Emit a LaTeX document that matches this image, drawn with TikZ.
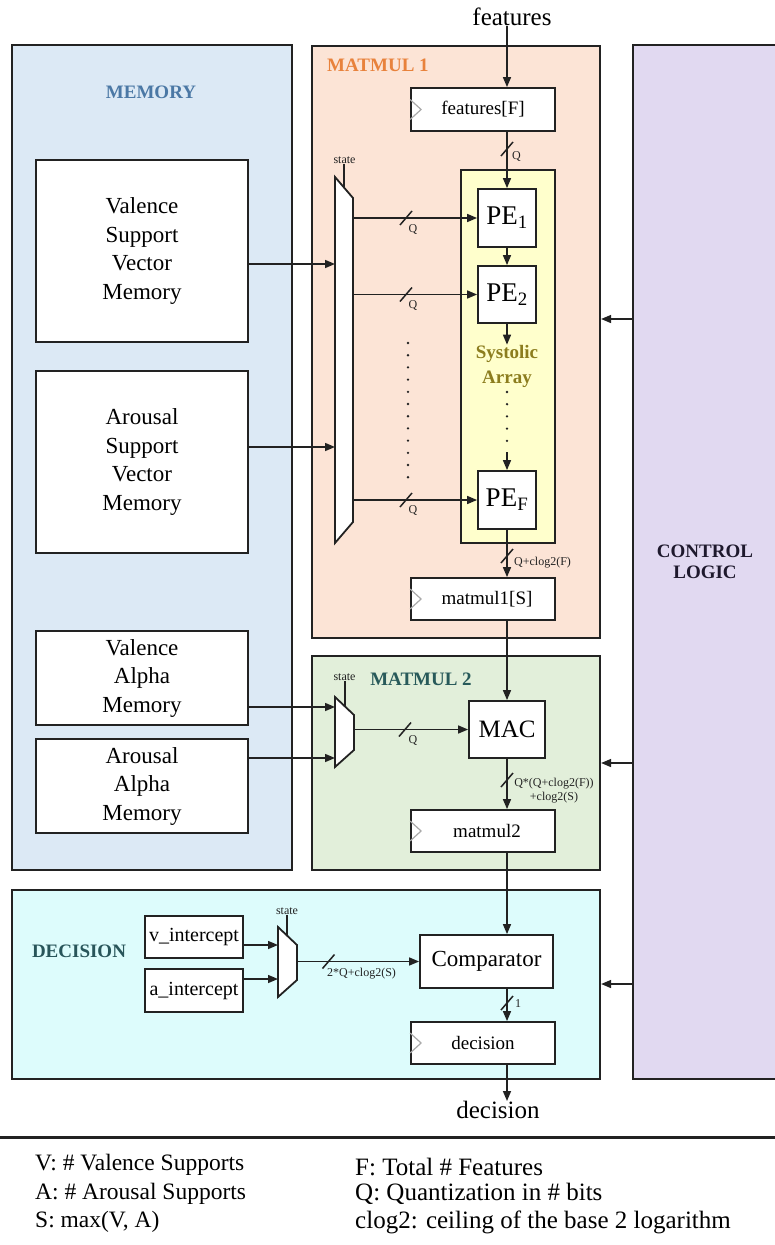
\documentclass[tikz,border=0pt]{standalone}
\usepackage{fontspec}
\setmainfont{Liberation Serif}
\usetikzlibrary{arrows.meta}
\definecolor{linec}{HTML}{222222}
\definecolor{memfill}{HTML}{DCE9F5}
\definecolor{mmfill}{HTML}{FCE4D6}
\definecolor{sysfill}{HTML}{FFFFCC}
\definecolor{mmtwofill}{HTML}{E2EFDA}
\definecolor{decfill}{HTML}{DDFCFC}
\definecolor{ctrlfill}{HTML}{E1D9F1}
\definecolor{memlbl}{HTML}{4B78A5}
\definecolor{mmlbl}{HTML}{E8823C}
\definecolor{syslbl}{HTML}{8C7D1E}
\definecolor{mmtwolbl}{HTML}{285A5A}
\definecolor{declbl}{HTML}{28555A}
\definecolor{ctrllbl}{HTML}{1E192D}
\definecolor{regtri}{HTML}{AAAAAA}
\newcommand{\regmark}[1]{\draw[draw=regtri,line width=1.2pt] ([yshift=10pt]#1.west) -- ([xshift=11pt]#1.west) -- ([yshift=-10pt]#1.west);}
\begin{document}
\begin{tikzpicture}[x=1pt,y=-1pt,
 grp/.style={draw=linec,line width=2.2pt,inner sep=0pt},
 ibox/.style={draw=linec,line width=1.8pt,fill=white,inner sep=0pt,align=center},
 memtxt/.style={font=\fontsize{23}{28.5}\selectfont},
 regtxt/.style={font=\fontsize{19}{22}\selectfont},
 small/.style={font=\fontsize{12}{14}\selectfont,inner sep=0pt,text=linec},
 glbl/.style={font=\fontsize{19}{21}\selectfont\bfseries,inner sep=0pt,align=center},
 ln/.style={draw=linec,line width=1.5pt},
 arr/.style={ln,-{Triangle[length=10pt,width=8pt]}},
 muxs/.style={draw=linec,line width=1.8pt,fill=white,line join=miter},
 dots/.style={draw=linec,line width=2.6pt,line cap=round,dash pattern=on 0pt off 12.2pt},
 bus/.pic={\draw[draw=linec,line width=1.5pt] (-6,7) -- (6,-7);},
 legl/.style={font=\fontsize{23.5}{28}\selectfont,inner sep=0pt,anchor=west},
 legr/.style={font=\fontsize{25}{28}\selectfont,inner sep=0pt,anchor=west}
 ]
\useasboundingbox (0,0) rectangle (775,1245);
\fill[white] (0,0) rectangle (775,1245);

% group boxes
\node[grp,fill=memfill,minimum width=280,minimum height=825] (mem) at (152,457.5) {};
\node[grp,fill=mmfill,minimum width=288,minimum height=592] (mmone) at (456,342) {};
\node[grp,fill=ctrlfill,minimum width=144,minimum height=1034,glbl,text=ctrllbl] (ctrl) at (705,562) {CONTROL\\LOGIC};
\node[grp,fill=mmtwofill,minimum width=288,minimum height=214] (mmtwo) at (456,763) {};
\node[grp,fill=decfill,minimum width=588,minimum height=189] (dec) at (306,984.5) {};

% group labels
\node[glbl,text=memlbl] (memlabel) at (151,92) {MEMORY};
\node[glbl,text=mmlbl,anchor=west] (mmonelabel) at (327,65) {MATMUL 1};
\node[glbl,text=mmtwolbl] (mmtwolabel) at (421,679) {MATMUL 2};
\node[glbl,text=declbl] (declabel) at (79,951) {DECISION};

% memory blocks
\node[ibox,memtxt,minimum width=212,minimum height=182] (vsv) at (142,251) {Valence\\Support\\Vector\\Memory};
\node[ibox,memtxt,minimum width=212,minimum height=182] (asv) at (142,462) {Arousal\\Support\\Vector\\Memory};
\node[ibox,memtxt,minimum width=212,minimum height=94] (val) at (142,678) {Valence\\Alpha\\Memory};
\node[ibox,memtxt,minimum width=212,minimum height=94] (aal) at (142,786) {Arousal\\Alpha\\Memory};

% systolic array
\node[draw=linec,line width=1.8pt,fill=sysfill,minimum width=94,minimum height=373,inner sep=0pt] (sys) at (508,356.5) {};
\node[glbl,text=syslbl,font=\fontsize{19}{25}\selectfont\bfseries] (syslabel) at (507,366) {Systolic\\Array};
\node[ibox,minimum width=58,minimum height=58,font=\fontsize{27}{30}\selectfont] (pe1) at (507,218) {PE\textsubscript{1}};
\node[ibox,minimum width=58,minimum height=57,font=\fontsize{27}{30}\selectfont] (pe2) at (507,294.5) {PE\textsubscript{2}};
\node[ibox,minimum width=58,minimum height=58,font=\fontsize{27}{30}\selectfont] (pef) at (507,500) {PE\textsubscript{F}};

% registers
\node[ibox,regtxt,minimum width=144,minimum height=43] (featreg) at (483,109.5) {features[F]};
\node[ibox,regtxt,minimum width=144,minimum height=42] (mmonereg) at (483,599) {\hspace*{8pt}matmul1[S]};
\node[ibox,regtxt,minimum width=144,minimum height=42] (mmtworeg) at (483,831) {\hspace*{8pt}matmul2};
\node[ibox,regtxt,minimum width=144,minimum height=42] (decreg) at (483,1043) {decision};
\regmark{featreg}
\regmark{mmonereg}
\regmark{mmtworeg}
\regmark{decreg}

% other blocks
\node[ibox,minimum width=76,minimum height=57,font=\fontsize{25}{28}\selectfont] (mac) at (507,729.5) {MAC};
\node[ibox,minimum width=133,minimum height=53,font=\fontsize{23}{26}\selectfont] (comp) at (486.5,961.5) {Comparator};
\node[ibox,minimum width=98,minimum height=42,font=\fontsize{20}{23}\selectfont] (vint) at (194,937) {v\_intercept};
\node[ibox,minimum width=98,minimum height=43,font=\fontsize{20}{23}\selectfont] (aint) at (194,990.5) {a\_intercept};

% muxes
\draw[muxs] (335,177) -- (353,198) -- (353,522) -- (335,543) -- cycle;
\draw[muxs] (335,697) -- (354,715) -- (354,750) -- (335,767) -- cycle;
\draw[muxs] (278,927) -- (297,945) -- (297,980) -- (278,997) -- cycle;
\coordinate (muxoner) at (353,0);
\coordinate (muxtwor) at (354,0);
\coordinate (muxthreer) at (297,0);
\coordinate (muxones) at (344,187.5);
\coordinate (muxtwos) at (345,706.5);
\coordinate (muxthrees) at (287,935.5);
\coordinate (mxa) at (335,264);
\coordinate (mxb) at (335,447);
\coordinate (mxc) at (335,707);
\coordinate (mxd) at (335,758);
\coordinate (mxe) at (278,945);
\coordinate (mxf) at (278,979);
\coordinate (colx) at (507,0);

% state labels
\node[small] (stone) at (344.5,160) {state};
\node[small] (sttwo) at (344.5,677) {state};
\node[small] (stthree) at (287,911) {state};
\draw[ln] (muxones |- stone.south) -- (muxones);
\draw[ln] (muxtwos |- sttwo.south) -- (muxtwos);
\draw[ln] (muxthrees |- stthree.south) -- (muxthrees);

% outer texts
\node[font=\fontsize{25}{28}\selectfont,inner sep=0pt] (featin) at (512,17) {features};
\node[font=\fontsize{25}{28}\selectfont,inner sep=0pt] (decout) at (498,1110) {decision};

% MATMUL 1 connections
\draw[arr] (featin.south -| colx) -- (featreg.north -| colx);
\draw[arr] (featreg.south -| colx) -- (pe1.north);
\pic at (507,149) {bus};
\node[small,anchor=west] at (512,156) {Q};
\draw[arr] (pe1.south) -- (pe2.north);
\draw[arr] (pe2.south) -- (syslabel.north -| pe2.south);
\draw[dots] (507,392) -- (507,442);
\coordinate (pefin) at (507,452);
\draw[arr] (pefin) -- (pef.north);
\draw[dots] (408,343) -- (408,478);

\draw[arr] (vsv.east |- mxa) -- (mxa);
\draw[arr] (asv.east |- mxb) -- (mxb);
\draw[arr] (pe1.west -| muxoner) -- (pe1.west);
\draw[arr] (pe2.west -| muxoner) -- (pe2.west);
\draw[arr] (pef.west -| muxoner) -- (pef.west);
\pic at (406,218) {bus};
\pic at (406,294.5) {bus};
\pic at (406,500) {bus};
\node[small] at (413,229) {Q};
\node[small] at (413,305) {Q};
\node[small] at (413,510) {Q};

\draw[arr] (pef.south) -- (mmonereg.north -| pef.south);
\pic at (507,556) {bus};
\node[small,anchor=west] at (514,563) {Q+clog2(F)};
\draw[arr] (mmonereg.south -| colx) -- (mac.north);

% MATMUL 2 connections
\draw[arr] (val.east |- mxc) -- (mxc);
\draw[arr] (aal.east |- mxd) -- (mxd);
\draw[arr] (mac.west -| muxtwor) -- (mac.west);
\pic at (405,729.5) {bus};
\node[small] at (413,740) {Q};
\draw[arr] (mac.south) -- (mmtworeg.north -| mac.south);
\pic at (507,780) {bus};
\node[small,align=center] at (554,791) {Q*(Q+clog2(F))\\+clog2(S)};
\draw[arr] (mmtworeg.south -| colx) -- (comp.north -| colx);

% DECISION connections
\draw[arr] (vint.east |- mxe) -- (mxe);
\draw[arr] (aint.east |- mxf) -- (mxf);
\draw[arr] (comp.west -| muxthreer) -- (comp.west);
\pic at (328.5,961.5) {bus};
\node[small,anchor=west] at (327,974) {2*Q+clog2(S)};
\draw[arr] (comp.south -| colx) -- (decreg.north -| colx);
\pic at (507,1003) {bus};
\node[small,anchor=west] at (515,1004) {1};
\draw[arr] (decreg.south -| colx) -- (decout.north -| colx);

% control connections
\coordinate (cta) at (633,319);
\coordinate (ctb) at (633,763);
\coordinate (ctc) at (633,984);
\draw[arr] (ctrl.west |- cta) -- (mmone.east |- cta);
\draw[arr] (ctrl.west |- ctb) -- (mmtwo.east |- ctb);
\draw[arr] (ctrl.west |- ctc) -- (dec.east |- ctc);

% legend
\draw[draw=linec,line width=3pt] (0,1137) -- (775,1137);
\node[legl] (lv) at (35,1165) {V: \# Valence Supports};
\node[legl] (la) at (35,1194) {A: \# Arousal Supports};
\node[legl] (ls) at (35,1222) {S: max(V, A)};
\node[legr] (lf) at (355,1167) {F: Total \# Features};
\node[legr] (lq) at (355,1194) {Q: Quantization in \# bits};
\node[legr] (lc) at (355,1222) {clog2: ceiling of the base 2 logarithm};
\end{tikzpicture}
\end{document}
